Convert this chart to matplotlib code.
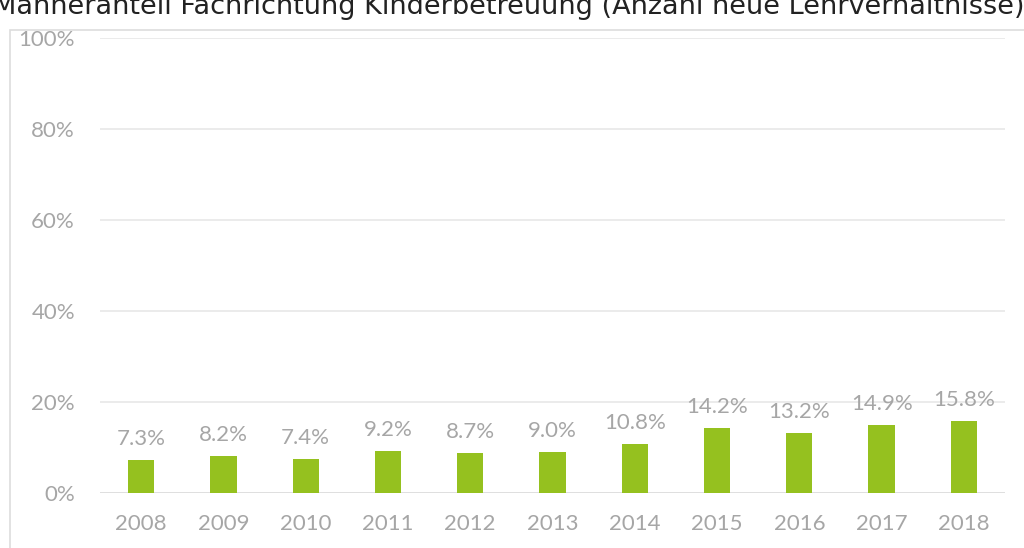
import matplotlib.pyplot as plt
from matplotlib.patches import Rectangle

years = ["2008", "2009", "2010", "2011", "2012", "2013",
         "2014", "2015", "2016", "2017", "2018"]
share = [7.3, 8.2, 7.4, 9.2, 8.7, 9.0, 10.8, 14.2, 13.2, 14.9, 15.8]
yticks = [0, 20, 40, 60, 80, 100]

title = "Männeranteil Fachrichtung Kinderbetreuung (Anzahl neue Lehrverhältnisse)"

green = "#95C11F"
grey_text = "#A6A6A6"
grid = "#E8E8E8"

W, H = 1024, 548
fig = plt.figure(figsize=(W / 100, H / 100), dpi=100)

# outer chart frame, partly off the image like the crop in the reference
fig.patches.append(Rectangle((10 / W, -0.1), 1.2, 1 - 30 / H + 0.1,
                             transform=fig.transFigure, fill=False,
                             edgecolor="#DDDDDD", linewidth=1.2))

fig.text(0.497, 1 - 14 / H, title, ha="center", va="baseline",
         fontsize=19.5, color="#222222", family="DejaVu Sans")

ax = fig.add_axes([100 / W, 1 - 493 / H, 905 / W, (493 - 38) / H])
x = list(range(len(years)))
ax.bar(x, share, width=0.32, color=green, zorder=3)

for xi, v in zip(x, share):
    ax.annotate(f"{v:.1f}%", (xi, v), xytext=(0, 8), textcoords="offset points",
                ha="center", va="bottom", fontsize=16, color=grey_text,
                family="Lato")

ax.set_xlim(-0.5, len(years) - 0.5)
ax.set_ylim(0, 100)
ax.set_yticks(yticks)
ax.set_yticklabels([f"{t}%" for t in yticks])
ax.set_xticks(x)
ax.set_xticklabels(years)
ax.tick_params(length=0, labelsize=16, labelcolor=grey_text)
ax.tick_params(axis="x", pad=15)
ax.tick_params(axis="y", pad=18)
for lbl in ax.get_xticklabels() + ax.get_yticklabels():
    lbl.set_family("Lato")

ax.grid(axis="y", color=grid, linewidth=1.2, zorder=0)
for s in ax.spines.values():
    s.set_visible(False)
ax.axhline(0, color="#DDDDDD", linewidth=1.2, zorder=2)

fig.savefig("out.png", dpi=100)
